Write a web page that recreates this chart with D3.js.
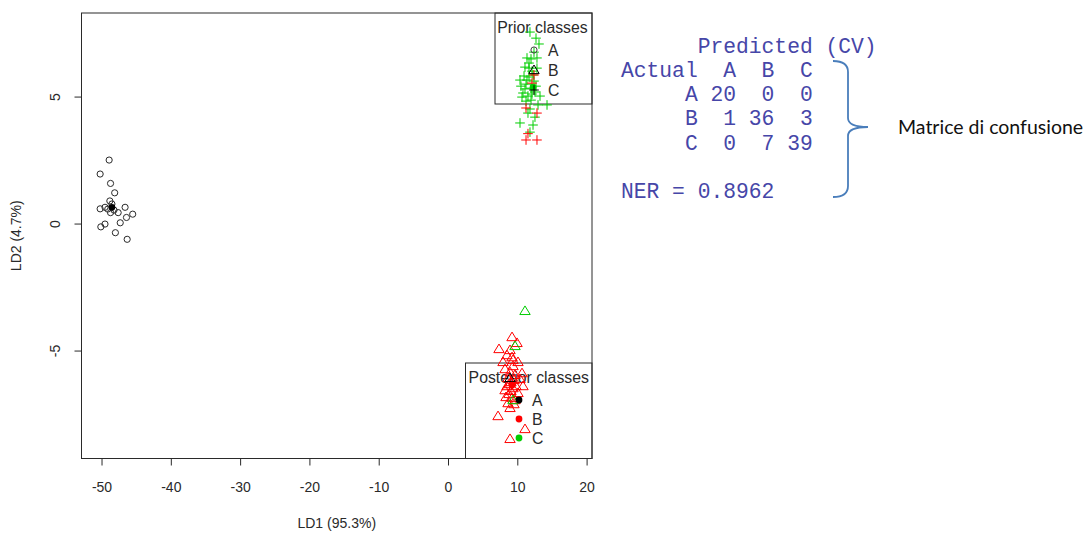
<!DOCTYPE html>
<html>
<head>
<meta charset="utf-8">
<script src="https://cdn.jsdelivr.net/npm/d3@7"></script>
<style>
  body { margin: 0; background: #fff; }
  svg { display: block; font-family: "Liberation Sans", Arial, sans-serif; }
</style>
</head>
<body>
<svg id="chart" width="1090" height="534"></svg>
<script>
// actual class A, predicted A (circles)
var actualA = [[-48.9,2.50],[-50.2,1.95],[-48.7,1.58],[-48.1,1.21],[-48.8,0.89],[-49.5,0.64],[-50.2,0.58],
  [-48.7,0.43],[-47.6,0.43],[-46.6,0.64],[-45.5,0.37],[-46.4,0.24],[-47.3,0.03],[-49.5,-0.02],
  [-50.1,-0.13],[-48.0,-0.36],[-46.3,-0.62],[-48.5,0.77],[-49.1,0.57],[-48.2,0.53]];
// actual class C (plus), predicted C / predicted B
var actualC_predC = [[11.83,7.54],[12.70,7.30],[13.13,7.07],[11.40,6.52],[11.98,6.48],[12.84,6.52],[11.11,6.16],
  [11.69,6.12],[12.84,6.12],[10.97,5.81],[11.69,5.77],[12.27,5.85],[10.53,5.41],[11.26,5.49],[11.98,5.33],
  [12.70,5.41],[10.82,5.14],[11.54,5.02],[12.12,5.10],[11.26,4.82],[11.98,4.86],[12.99,4.67],[14.29,4.67],
  [12.55,4.19],[10.39,3.96],[12.27,3.88],[11.83,3.60],[11.40,5.65],[12.41,5.61],[11.11,5.30],[13.28,5.02],
  [11.83,4.51],[10.68,4.98],[11.69,6.32],[12.41,6.75],[12.12,6.00],[10.39,5.65],[12.55,5.18],[11.54,4.35]];
var actualC_predB = [[12.41,5.85],[12.12,5.53],[11.26,4.55],[12.84,4.35],[11.54,3.54],[11.26,3.29],[12.84,3.29]];
// actual class B (triangles), predicted B / C / A
var actualB_predB = [[9.24,-4.47],[9.96,-4.70],[7.36,-4.94],[8.95,-4.98],[8.51,-5.18],[9.24,-5.26],[7.94,-5.45],
  [10.10,-5.45],[9.38,-5.37],[8.23,-5.73],[8.95,-5.85],[10.68,-5.89],[8.66,-6.08],[9.52,-6.16],[8.80,-6.32],
  [9.81,-6.40],[10.39,-6.12],[8.23,-6.56],[9.09,-6.59],[10.10,-6.67],[8.37,-6.83],[9.24,-6.87],[8.66,-7.07],
  [9.52,-7.11],[8.95,-7.26],[7.22,-7.58],[11.11,-8.09],[8.95,-8.48],[10.82,-6.40],[8.51,-6.40],[9.38,-6.48],
  [9.09,-6.24],[9.67,-5.96],[8.80,-6.71],[9.67,-6.95],[9.38,-5.61]];
var actualB_predC = [[11.11,-3.44],[9.67,-4.82],[9.38,-6.95]];
var actualB_predA = [[8.95,-6.08]];
// group means
var meanA = [-48.5, 0.64];
var meanB = [9.24, -6.36];
var meanC = [12.27, 5.37];

var xTicks = [-50, -40, -30, -20, -10, 0, 10, 20];
var yTicks = [-5, 0, 5];
var classLabels = ["A", "B", "C"];
var confHeader = "      Predicted (CV)";
var confCols = "Actual  A  B  C";
var confRows = ["     A 20  0  0", "     B  1 36  3", "     C  0  7 39"];
var nerLine = "NER = 0.8962";

var svg = d3.select("#chart");
var plotL = 81.5, plotR = 592, plotT = 13, plotB = 458.5;

var x = d3.scaleLinear().domain([-52.89, 20.78]).range([plotL, plotR]);
var y = d3.scaleLinear().domain([-9.25, 8.29]).range([plotB, plotT]);

var RED = "#ff0000", GREEN = "#00cd00", BLACK = "#000";
var INK = "#2a2a2a";
var fmt = function(d) { return String(d); }; // plain hyphen minus like R

// axes
var xAxis = svg.append("g").attr("transform", "translate(0," + plotB + ")")
  .call(d3.axisBottom(x).tickValues(xTicks).tickFormat(fmt).tickSize(7).tickPadding(17));
xAxis.select(".domain").remove();
xAxis.selectAll("line").attr("stroke", INK);
xAxis.selectAll("text").attr("font-size", 14).attr("fill", INK)
  .attr("font-family", "Liberation Sans, Arial, sans-serif");

var yAxis = svg.append("g").attr("transform", "translate(" + plotL + ",0)")
  .call(d3.axisLeft(y).tickValues(yTicks).tickFormat(fmt).tickSize(7).tickPadding(0));
yAxis.select(".domain").remove();
yAxis.selectAll("line").attr("stroke", INK);
yAxis.selectAll(".tick text")
  .attr("font-size", 14).attr("fill", INK)
  .attr("font-family", "Liberation Sans, Arial, sans-serif")
  .attr("x", null).attr("dy", null)
  .attr("text-anchor", "middle")
  .attr("transform", "translate(-27,0) rotate(-90)")
  .attr("y", 5);

svg.append("text").attr("x", (plotL + plotR) / 2).attr("y", 528)
  .attr("text-anchor", "middle").attr("font-size", 14).attr("fill", INK)
  .text("LD1 (95.3%)");
svg.append("text").attr("transform", "translate(21," + ((plotT + plotB) / 2) + ") rotate(-90)")
  .attr("text-anchor", "middle").attr("font-size", 14).attr("fill", INK)
  .text("LD2 (4.7%)");

// legend boxes (drawn before points, no fill)
var priorBox = {x0: 495, y0: plotT, x1: plotR, y1: 104};
var postBox = {x0: 465.5, y0: 363, x1: plotR, y1: plotB};
[priorBox, postBox].forEach(function(b) {
  svg.append("rect").attr("x", b.x0).attr("y", b.y0)
    .attr("width", b.x1 - b.x0).attr("height", b.y1 - b.y0)
    .attr("fill", "none").attr("stroke", INK).attr("stroke-width", 1);
});
svg.append("text").attr("x", (priorBox.x0 + priorBox.x1) / 2 - 1).attr("y", 33)
  .attr("text-anchor", "middle").attr("font-size", 15.8).attr("fill", INK).text("Prior classes");
svg.append("text").attr("x", (postBox.x0 + postBox.x1) / 2).attr("y", 383)
  .attr("text-anchor", "middle").attr("font-size", 15.8).attr("fill", INK).text("Posterior classes");

var priorRowY = [50, 70, 90], postRowY = [400, 419, 438];
classLabels.forEach(function(l, i) {
  svg.append("text").attr("x", 548).attr("y", priorRowY[i] + 6).attr("font-size", 15.8)
    .attr("fill", INK).text(l);
  svg.append("text").attr("x", 532).attr("y", postRowY[i] + 6).attr("font-size", 15.8)
    .attr("fill", INK).text(l);
});

// symbol helpers
function circleAt(g, px, py, col) {
  g.append("circle").attr("cx", px).attr("cy", py).attr("r", 3.1)
    .attr("fill", "none").attr("stroke", col).attr("stroke-width", 1);
}
function plusAt(g, px, py, col) {
  g.append("path").attr("d", "M" + (px - 4.8) + "," + py + "h9.6M" + px + "," + (py - 4.8) + "v9.6")
    .attr("stroke", col).attr("stroke-width", 1).attr("fill", "none");
}
function triAt(g, px, py, col) {
  g.append("path").attr("d", "M" + px + "," + (py - 5) + "L" + (px + 5.2) + "," + (py + 3.6) +
    "L" + (px - 5.2) + "," + (py + 3.6) + "Z")
    .attr("stroke", col).attr("stroke-width", 1).attr("fill", "none");
}
function dotAt(g, px, py, col) {
  g.append("circle").attr("cx", px).attr("cy", py).attr("r", 3.4).attr("fill", col);
}

var pts = svg.append("g");
actualA.forEach(function(d) { circleAt(pts, x(d[0]), y(d[1]), INK); });
actualC_predC.forEach(function(d) { plusAt(pts, x(d[0]), y(d[1]), GREEN); });
actualC_predB.forEach(function(d) { plusAt(pts, x(d[0]), y(d[1]), RED); });
actualB_predB.forEach(function(d) { triAt(pts, x(d[0]), y(d[1]), RED); });
actualB_predC.forEach(function(d) { triAt(pts, x(d[0]), y(d[1]), GREEN); });
actualB_predA.forEach(function(d) { triAt(pts, x(d[0]), y(d[1]), BLACK); });
dotAt(pts, x(meanA[0]), y(meanA[1]), BLACK);
dotAt(pts, x(meanB[0]), y(meanB[1]), RED);
dotAt(pts, x(meanC[0]), y(meanC[1]), GREEN);

// legend symbols
var leg = svg.append("g");
circleAt(leg, 534, priorRowY[0], "#444");
triAt(leg, 534, priorRowY[1], BLACK);
plusAt(leg, 534, priorRowY[2], BLACK);
dotAt(leg, 519, postRowY[0], BLACK);
dotAt(leg, 519, postRowY[1], RED);
dotAt(leg, 519, postRowY[2], GREEN);

// plot box
svg.append("rect").attr("x", plotL).attr("y", plotT).attr("width", plotR - plotL)
  .attr("height", plotB - plotT).attr("fill", "none").attr("stroke", INK).attr("stroke-width", 1);

// confusion matrix console text
var lines = [confHeader, confCols].concat(confRows).concat(["", nerLine]);
var conf = svg.append("g");
lines.forEach(function(t, i) {
  conf.append("text").attr("x", 621).attr("y", 52.5 + i * 24.3)
    .style("font-family", "'Courier New', 'Liberation Mono', monospace")
    .style("font-size", "21.3px").style("white-space", "pre")
    .attr("fill", "#4646a8")
    .text(t);
});

// brace
svg.append("path")
  .attr("d", "M833,61 Q848,61 848,72 L848,118 Q848,127 868,127 Q848,127 848,136 L848,186 Q848,197 833,197")
  .attr("fill", "none").attr("stroke", "#4a7ebb").attr("stroke-width", 1.8);

svg.append("text").attr("x", 898).attr("y", 134)
  .style("font-family", "Lato, 'Open Sans', sans-serif").style("font-size", "19.5px")
  .attr("fill", "#111").text("Matrice di confusione");
</script>
</body>
</html>
